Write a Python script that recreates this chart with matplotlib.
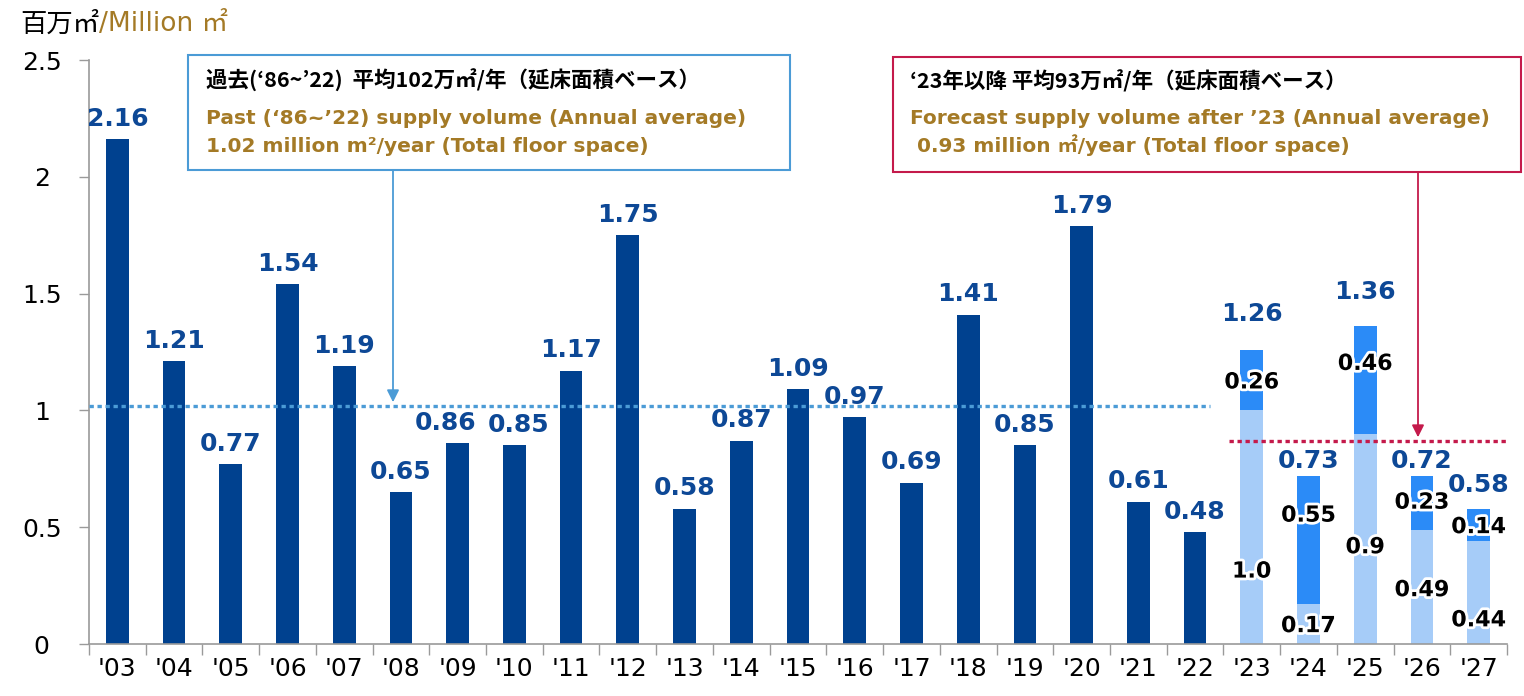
import matplotlib
matplotlib.use("Agg")
import matplotlib.pyplot as plt
import matplotlib.patheffects as pe
from matplotlib.patches import Rectangle
import numpy as np

# ---- data ----
years = ["'03", "'04", "'05", "'06", "'07", "'08", "'09", "'10", "'11", "'12",
         "'13", "'14", "'15", "'16", "'17", "'18", "'19", "'20", "'21", "'22"]
past_supply = [2.16, 1.21, 0.77, 1.54, 1.19, 0.65, 0.86, 0.85, 1.17, 1.75,
               0.58, 0.87, 1.09, 0.97, 0.69, 1.41, 0.85, 1.79, 0.61, 0.48]

fc_years = ["'23", "'24", "'25", "'26", "'27"]
fc_lower = [1.00, 0.17, 0.90, 0.49, 0.44]
fc_upper = [0.26, 0.55, 0.46, 0.23, 0.14]
fc_total = [1.26, 0.73, 1.36, 0.72, 0.58]
fc_lower_lbl = ["1.0", "0.17", "0.9", "0.49", "0.44"]
fc_upper_lbl = ["0.26", "0.55", "0.46", "0.23", "0.14"]

past_avg = 1.02
fc_avg_line = 0.87

# ---- style ----
NAVY = "#00418F"
LIGHT = "#A6CCF8"
BRIGHT = "#2B8BF7"
TOTAL_C = "#0D4896"
GOLD = "#A47A26"
AVG_BLUE = "#4B9BD6"
CRIMSON = "#C41A4B"
GRAY = "#9A9A9A"
JP = ["Noto Sans CJK JP", "DejaVu Sans"]
EN = ["DejaVu Sans", "Noto Sans CJK JP"]

# label layout tweaks
lower_pos = [0.31, 0.45, 0.46, 0.47, 0.23]
upper_pos = [0.46, 0.69, 0.65, 0.5, 0.43]
fc_total_offset = [17, 2, 16, 2, 8]
past_dx = {6: -9, 7: 3}   # nudge crowded labels sideways (points)

W, H = 1524, 696
fig = plt.figure(figsize=(W / 100, H / 100), dpi=100)
ax = fig.add_axes([89 / W, 52 / H, (1507 - 89) / W, (644 - 60) / H])


def fx(px):
    return px / W


def fy(py):
    return 1 - py / H


labels = years + fc_years
n = len(labels)
x_past = np.arange(len(years))
x_fc = np.arange(len(years), n)
bw = 0.40

ax.bar(x_past, past_supply, width=bw, color=NAVY, zorder=2)
ax.bar(x_fc, fc_lower, width=bw, color=LIGHT, zorder=2)
ax.bar(x_fc, fc_upper, width=bw, bottom=fc_lower, color=BRIGHT, zorder=2)

glow = [pe.withStroke(linewidth=4, foreground="white")]

for x, v in zip(x_past, past_supply):
    ax.annotate(f"{v:.2f}", (x, v), xytext=(past_dx.get(x, 0), 6),
                textcoords="offset points", ha="center", va="bottom",
                fontsize=18, fontweight="bold", color=TOTAL_C, family="DejaVu Sans")
for i, x in enumerate(x_fc):
    top = fc_lower[i] + fc_upper[i]
    ax.annotate(f"{fc_total[i]:.2f}", (x, top), xytext=(0, fc_total_offset[i]),
                textcoords="offset points", ha="center", va="bottom",
                fontsize=18, fontweight="bold", color=TOTAL_C, family="DejaVu Sans")
    ax.text(x, fc_lower[i] * lower_pos[i], fc_lower_lbl[i], ha="center", va="center",
            fontsize=16, fontweight="bold", color="black", path_effects=glow, zorder=5)
    ax.text(x, fc_lower[i] + fc_upper[i] * upper_pos[i], fc_upper_lbl[i], ha="center",
            va="center", fontsize=16, fontweight="bold", color="black",
            path_effects=glow, zorder=5)

# average lines
ax.plot([-0.5, 19.27], [past_avg, past_avg], color=AVG_BLUE, lw=2.4,
        dashes=(1.3, 1.1), zorder=4)
ax.plot([19.6, n - 0.5], [fc_avg_line, fc_avg_line], color=CRIMSON, lw=2.4,
        dashes=(1.3, 1.1), zorder=4)

# axes
ax.set_xlim(-0.5, n - 0.5)
ax.set_ylim(0, 2.5)
ax.set_yticks([0, 0.5, 1, 1.5, 2, 2.5])
ax.set_yticklabels(["0", "0.5", "1", "1.5", "2", "2.5"], ha="center")
ax.set_xticks(np.arange(n))
ax.set_xticklabels(labels)
ax.set_xticks(np.arange(n + 1) - 0.5, minor=True)
ax.tick_params(axis="x", which="major", length=0, pad=9, labelsize=18)
ax.tick_params(axis="x", which="minor", length=8, color=GRAY, width=1)
ax.tick_params(axis="y", length=7, color=GRAY, width=1, pad=27, labelsize=18)
for s in ["top", "right"]:
    ax.spines[s].set_visible(False)
for s in ["left", "bottom"]:
    ax.spines[s].set_color(GRAY)
    ax.spines[s].set_linewidth(1.2)

# unit title
t1 = fig.text(fx(20), fy(24), "百万㎡", fontsize=19, family=JP, va="center", ha="left")
ax.annotate("/Million ㎡", xy=(1, 0.5), xycoords=t1, va="center", ha="left",
            fontsize=19, family=EN, color=GOLD)

# annotation box: past
fig.add_artist(Rectangle((fx(188), fy(170)), fx(790) - fx(188), fy(55) - fy(170),
                         transform=fig.transFigure, fill=False, ec=AVG_BLUE, lw=1.5))
fig.text(fx(206), fy(80), "過去(‘86~’22)  平均102万㎡/年（延床面積ベース）",
         family=JP, fontsize=15.5, fontweight="bold", va="center")
fig.text(fx(206), fy(118), "Past (‘86~’22) supply volume (Annual average)",
         family=EN, fontsize=14.5, fontweight="bold", color=GOLD, va="center")
fig.text(fx(206), fy(146), "1.02 million m²/year (Total floor space)",
         family=EN, fontsize=14.5, fontweight="bold", color=GOLD, va="center")
ax.annotate("", xy=(fx(393), past_avg + 0.015), xycoords=("figure fraction", "data"),
            xytext=(fx(393), fy(170)), textcoords="figure fraction",
            arrowprops=dict(arrowstyle="-|>", color=AVG_BLUE, lw=1.3,
                            mutation_scale=18, shrinkA=0, shrinkB=0))

# annotation box: forecast
fig.add_artist(Rectangle((fx(893), fy(172)), fx(1521) - fx(893), fy(57) - fy(172),
                         transform=fig.transFigure, fill=False, ec=CRIMSON, lw=1.5))
fig.text(fx(910), fy(81), "‘23年以降 平均93万㎡/年（延床面積ベース）",
         family=JP, fontsize=15.5, fontweight="bold", va="center")
fig.text(fx(910), fy(118), "Forecast supply volume after ’23 (Annual average)",
         family=EN, fontsize=14.5, fontweight="bold", color=GOLD, va="center")
fig.text(fx(910), fy(145), " 0.93 million ㎡/year (Total floor space)",
         family=EN, fontsize=14.5, fontweight="bold", color=GOLD, va="center")
ax.annotate("", xy=(fx(1418), fc_avg_line + 0.015), xycoords=("figure fraction", "data"),
            xytext=(fx(1418), fy(172)), textcoords="figure fraction",
            arrowprops=dict(arrowstyle="-|>", color=CRIMSON, lw=1.3,
                            mutation_scale=18, shrinkA=0, shrinkB=0))

fig.savefig("out.png", dpi=100, facecolor="white")
